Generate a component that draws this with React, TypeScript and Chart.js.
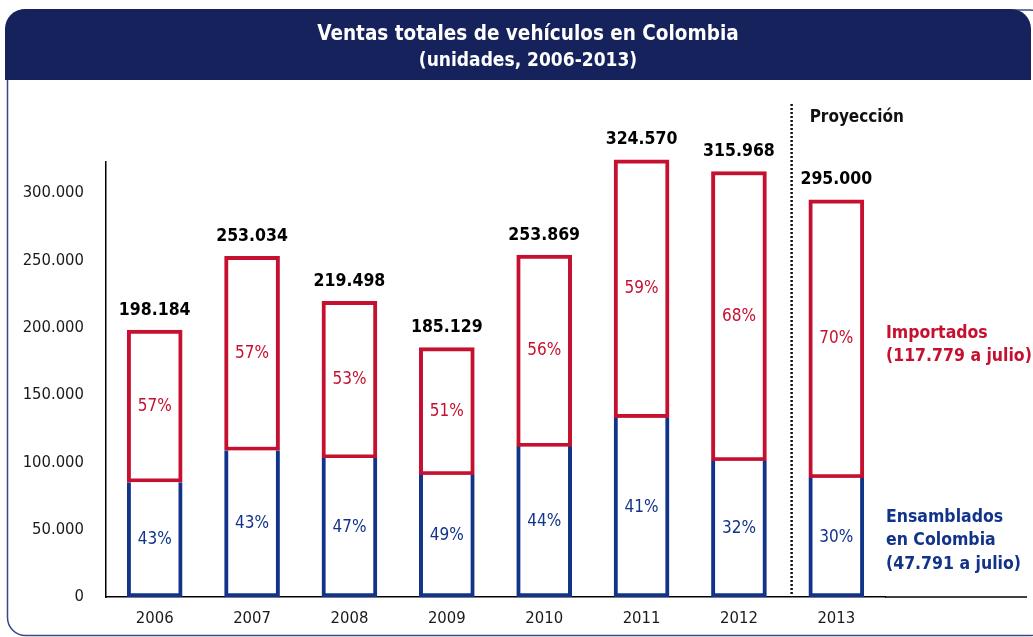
import React, { useEffect, useRef } from "react";
import { Chart, registerables } from "chart.js";

Chart.register(...registerables);

// ---- Data ----
const years = ["2006", "2007", "2008", "2009", "2010", "2011", "2012", "2013"];
const totals = [198184, 253034, 219498, 185129, 253869, 324570, 315968, 295000];
const assembled = [85219, 108805, 103164, 90713, 111702, 133074, 101110, 88500];
const imported = [112965, 144229, 116334, 94416, 142167, 191496, 214858, 206500];
const assembledPct = [43, 43, 47, 49, 44, 41, 32, 30];
const importedPct = [57, 57, 53, 51, 56, 59, 68, 70];
const yTicks = [0, 50000, 100000, 150000, 200000, 250000, 300000];
const importedLegend = ["Importados", "(117.779 a julio)"];
const assembledLegend = ["Ensamblados", "en Colombia", "(47.791 a julio)"];
const projectionLabel = "Proyección";
const titleText = "Ventas totales de vehículos en Colombia";
const subtitleText = "(unidades, 2006-2013)";

// ---- Styles ----
const FONT = "'DejaVu Sans Condensed', 'DejaVu Sans', sans-serif";
const RED = "#C5102F";
const BLUE = "#12338A";
const NAVY = "#16225C";

const fmt = (n: number) => String(n).replace(/\B(?=(\d{3})+(?!\d))/g, ".");

const decorPlugin = {
  id: "decor",
  beforeDraw(chart: any) {
    const ctx = chart.ctx;
    ctx.save();
    ctx.fillStyle = "#ffffff";
    ctx.fillRect(0, 0, chart.width, chart.height);
    // frame
    ctx.strokeStyle = "#3A4882";
    ctx.lineWidth = 1.5;
    ctx.beginPath();
    ctx.roundRect(7.5, 10, 1040, 625.5, 18);
    ctx.stroke();
    // banner
    ctx.fillStyle = NAVY;
    ctx.beginPath();
    ctx.roundRect(5, 9, 1026, 71, [20, 20, 0, 0]);
    ctx.fill();
    ctx.restore();
  },
  afterDraw(chart: any) {
    const ctx = chart.ctx;
    const area = chart.chartArea;
    const xs = chart.scales.x;
    ctx.save();
    // extend x axis line
    ctx.strokeStyle = "#000";
    ctx.lineWidth = 1.5;
    ctx.beginPath();
    ctx.moveTo(area.right, area.bottom);
    ctx.lineTo(1027, area.bottom);
    ctx.stroke();
    // dotted projection separator
    const sepX = (xs.getPixelForValue(6) + xs.getPixelForValue(7)) / 2 + 4;
    ctx.setLineDash([2, 2]);
    ctx.lineWidth = 2.5;
    ctx.strokeStyle = "#111";
    ctx.beginPath();
    ctx.moveTo(sepX, 104);
    ctx.lineTo(sepX, area.bottom);
    ctx.stroke();
    ctx.setLineDash([]);
    // Proyección
    ctx.fillStyle = "#111";
    ctx.font = `bold 17px ${FONT}`;
    ctx.textAlign = "left";
    ctx.textBaseline = "middle";
    ctx.fillText(projectionLabel, sepX + 18, 118);
    // side legends
    ctx.font = `bold 17.5px ${FONT}`;
    ctx.fillStyle = RED;
    importedLegend.forEach((t, i) => ctx.fillText(t, area.right + 1, 333 + i * 23.5));
    ctx.fillStyle = BLUE;
    assembledLegend.forEach((t, i) => ctx.fillText(t, area.right + 1, 517 + i * 23.5));
    ctx.restore();
  },
  afterDatasetsDraw(chart: any) {
    const ctx = chart.ctx;
    ctx.save();
    ctx.textAlign = "center";
    ctx.textBaseline = "middle";
    const pcts = [assembledPct, importedPct];
    const colors = [BLUE, RED];
    chart.data.datasets.forEach((ds: any, di: number) => {
      const meta = chart.getDatasetMeta(di);
      meta.data.forEach((el: any, i: number) => {
        ctx.font = `17px ${FONT}`;
        ctx.fillStyle = colors[di];
        ctx.fillText(pcts[di][i] + "%", el.x, (el.y + el.base) / 2);
      });
    });
    const top = chart.getDatasetMeta(1);
    top.data.forEach((el: any, i: number) => {
      ctx.font = `bold 17.5px ${FONT}`;
      ctx.fillStyle = "#000";
      ctx.fillText(fmt(totals[i]), el.x, el.y - 20);
    });
    ctx.restore();
  },
};

export default function App() {
  const canvasRef = useRef<HTMLCanvasElement | null>(null);

  useEffect(() => {
    if (!canvasRef.current) return;
    const chart = new Chart(canvasRef.current, {
      type: "bar",
      data: {
        labels: years,
        datasets: [
          {
            label: "Ensamblados en Colombia",
            data: assembled,
            backgroundColor: "#ffffff",
            borderColor: BLUE,
            borderWidth: 4,
            borderSkipped: "top",
            barThickness: 55,
            stack: "s",
            clip: false,
          },
          {
            label: "Importados",
            data: imported,
            backgroundColor: "#ffffff",
            borderColor: RED,
            borderWidth: 4,
            borderSkipped: false,
            barThickness: 55,
            stack: "s",
            clip: false,
          },
        ],
      } as any,
      options: {
        responsive: false,
        animation: false,
        devicePixelRatio: 1,
        layout: { padding: { left: 23, right: 0, top: 0, bottom: 0 } },
        plugins: {
          legend: { display: false },
          tooltip: { enabled: false },
          title: {
            display: true,
            text: titleText,
            color: "#ffffff",
            font: { family: FONT, size: 20.5, weight: "bold", lineHeight: 1.2 },
            padding: { top: 22, bottom: 0 },
          },
          subtitle: {
            display: true,
            text: subtitleText,
            color: "#ffffff",
            font: { family: FONT, size: 19, weight: "bold", lineHeight: 1.2 },
            padding: { top: 3, bottom: 89.6 },
          },
        },
        scales: {
          x: {
            stacked: true,
            grid: { display: false, drawTicks: false },
            border: { display: true, color: "#000", width: 1.5 },
            ticks: {
              color: "#1a1a1a",
              font: { family: FONT, size: 16.5 },
              padding: 12,
              maxRotation: 0,
            },
            afterFit(scale: any) {
              scale.height = 40;
            },
          },
          y: {
            stacked: true,
            min: 0,
            max: 323000,
            grid: { display: false, drawTicks: false },
            border: { display: true, color: "#000", width: 1.5 },
            ticks: {
              color: "#1a1a1a",
              font: { family: FONT, size: 16.5 },
              padding: 22,
              callback: (v: any) => fmt(Number(v)),
            },
            afterBuildTicks(scale: any) {
              scale.ticks = yTicks.map((v) => ({ value: v }));
            },
            afterFit(scale: any) {
              scale.width = 83;
            },
          },
          y2: {
            type: "linear",
            position: "right",
            display: true,
            grid: { display: false, drawTicks: false },
            border: { display: false },
            ticks: { display: false },
            afterFit(scale: any) {
              scale.width = 148;
            },
          },
        },
      } as any,
      plugins: [decorPlugin],
    });
    return () => chart.destroy();
  }, []);

  return (
    <div style={{ position: "absolute", left: 0, top: 0, width: 1033, height: 637 }}>
      <canvas ref={canvasRef} width={1033} height={637} style={{ display: "block" }} />
    </div>
  );
}
